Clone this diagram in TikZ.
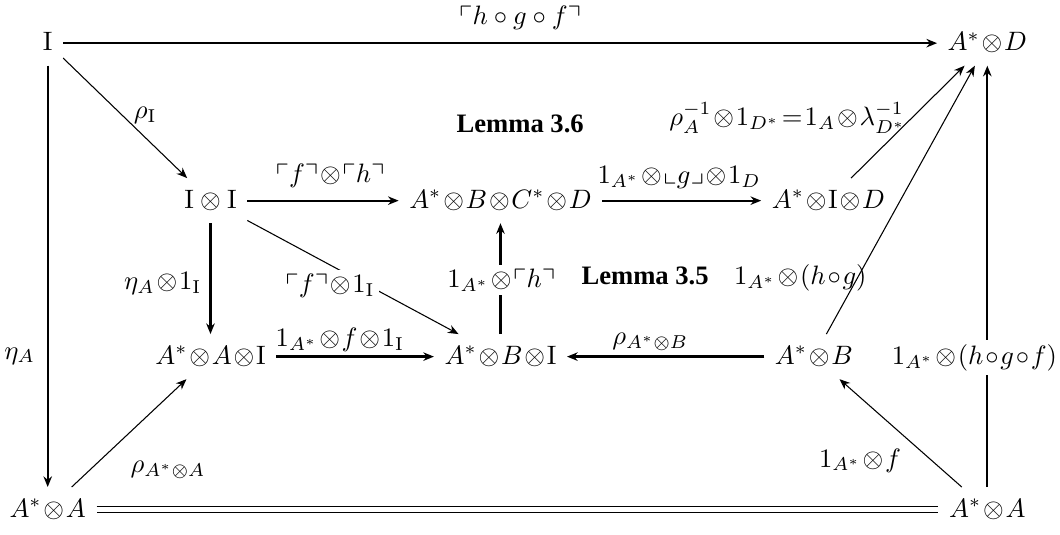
\documentclass[tikz,border=0pt]{standalone}
\usepackage{amsmath}
\usepackage{amssymb}
\usepackage[no-math]{fontspec}
\setmainfont{Liberation Serif}
\usepackage{tikz}
\usetikzlibrary{arrows.meta, positioning, calc}

\medmuskip=1.2mu
\thickmuskip=1.5mu

\tikzset{
  obj/.style={inner sep=1.5pt, outer sep=2.5pt, text height=1.6ex, text depth=0.35ex},
  straight/.style={line width=0.85pt, -{Stealth[length=4pt, width=3.2pt]}},
  slant/.style={line width=0.4pt, -{Stealth[length=4pt, width=3.2pt]}},
  lbl/.style={inner sep=1pt},
  cutlbl/.style={inner sep=1.5pt, fill=white},
  lemma/.style={font=\bfseries}
}

\begin{document}
\begin{tikzpicture}
\useasboundingbox (0,0) rectangle (14.0,7.06);

% Objects
\node[obj] (I)    at (0.63, 6.49)  {$\mathrm{I}$};
\node[obj] (AD)   at (13.04, 6.49) {$A^*\otimes D$};
\node[obj] (II)   at (2.78, 4.41)  {$\mathrm{I}\,\otimes\,\mathrm{I}$};
\node[obj] (ABCD) at (6.61, 4.41)  {$A^*\otimes B\otimes C^*\otimes D$};
\node[obj] (AID)  at (10.94, 4.41) {$A^*\otimes\mathrm{I}\otimes D$};
\node[obj] (AAI)  at (2.78, 2.35)  {$A^*\otimes A\otimes\mathrm{I}$};
\node[obj] (ABI)  at (6.61, 2.35)  {$A^*\otimes B\otimes\mathrm{I}$};
\node[obj] (AB)   at (10.75, 2.35) {$A^*\otimes B$};
\node[obj] (AAl)  at (0.63, 0.33)  {$A^*\otimes A$};
\node[obj] (AAr)  at (13.04, 0.33) {$A^*\otimes A$};

% Outer square
\draw[straight] (I) -- (AD);
\draw[straight] (I) -- (AAl);
\draw[straight] (AAr) -- (AD);
\draw[line width=0.4pt, double, double distance=1.6pt] (AAl) -- (AAr);

% Inner arrows
\draw[slant] (I) -- (II);
\draw[straight] (II) -- (ABCD);
\draw[straight] (ABCD) -- (AID);
\draw[slant] (AID) -- (AD);
\draw[slant] (AB) -- (AD);
\draw[straight] (II) -- (AAI);
\draw[slant] (II) -- (ABI);
\draw[straight] (ABI) -- (ABCD);
\draw[straight] (AAI) -- (ABI);
\draw[straight] (AB) -- (ABI);
\draw[slant] (AAl) -- (AAI);
\draw[slant] (AAr) -- (AB);

% Labels
\node[lbl] (l-hgf)  at (6.87, 6.82)  {$\medmuskip=4mu \ulcorner h\circ g\circ f\urcorner$};
\node[lbl] (l-rI)   at (1.92, 5.54)  {$\rho_{\mathrm{I}}$};
\node[lemma] (lem6) at (6.87, 5.43)  {Lemma 3.6};
\node[lbl] (l-rinv) at (10.40, 5.50) {$\rho_A^{-1}\otimes 1_{D^*}=1_A\otimes\lambda_{D^*}^{-1}$};
\node[lbl] (l-fh)   at (4.36, 4.74)  {$\ulcorner f\urcorner\otimes\ulcorner h\urcorner$};
\node[lbl] (l-1g1)  at (8.97, 4.72)  {$1_{A^*}\otimes\llcorner g\lrcorner\otimes 1_D$};
\node[lbl] (l-e1)   at (2.15, 3.32)  {$\eta_A\otimes 1_{\mathrm{I}}$};
\node[cutlbl] (l-f1) at (4.36, 3.29) {$\ulcorner f\urcorner\otimes 1_{\mathrm{I}}$};
\node[cutlbl] (l-1h) at (6.62, 3.36) {$1_{A^*}\otimes\ulcorner h\urcorner$};
\node[lemma] (lem5) at (8.52, 3.42)  {Lemma 3.5};
\node[lbl] (l-1hg)  at (10.57, 3.39) {$1_{A^*}\otimes(h\circ g)$};
\node[lbl] (l-1f1)  at (4.49, 2.57)  {$1_{A^*}\otimes f\otimes 1_{\mathrm{I}}$};
\node[lbl] (l-rAB)  at (8.59, 2.55)  {$\rho_{A^*\otimes B}$};
\node[lbl] (l-eA)   at (0.26, 2.36)  {$\eta_A$};
\node[cutlbl] (l-1hgf) at (12.87, 2.34) {$1_{A^*}\otimes(h\circ g\circ f)$};
\node[lbl] (l-rAA)  at (2.22, 0.86)  {$\rho_{A^*\otimes A}$};
\node[lbl] (l-1f)   at (11.36, 0.98) {$1_{A^*}\otimes f$};
\end{tikzpicture}
\end{document}
